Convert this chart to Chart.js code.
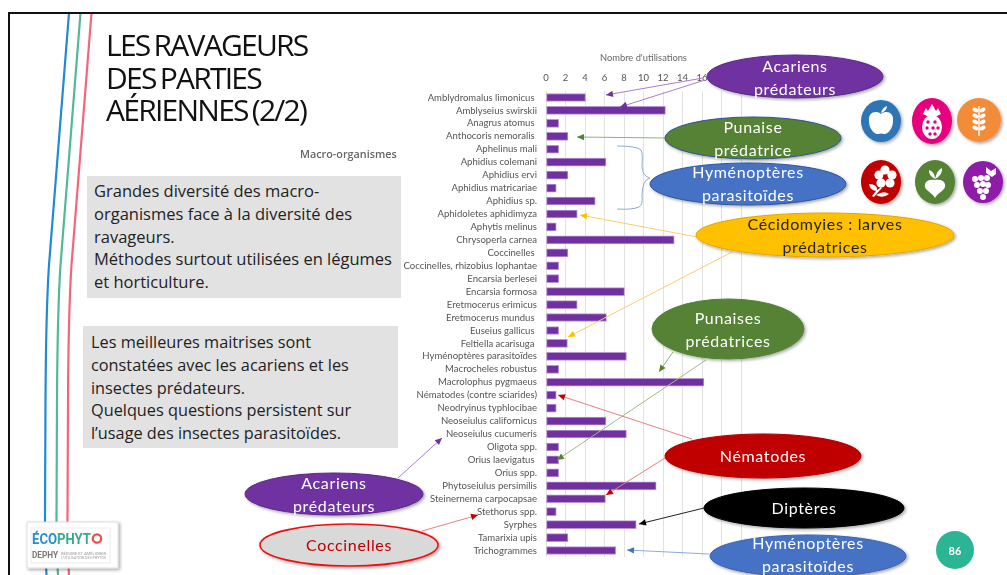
<!DOCTYPE html>
<html lang="fr">
<head>
<meta charset="utf-8">
<title>Les ravageurs des parties aériennes (2/2)</title>
<script src="https://cdn.jsdelivr.net/npm/chart.js@4"></script>
<style>
  html, body { margin: 0; padding: 0; background: #fff; }
  #slide { position: relative; width: 1007px; height: 575px; overflow: hidden; font-family: Lato, sans-serif; }
  #slide canvas, #slide svg { position: absolute; left: 0; top: 0; }
  #frame { position: absolute; left: 8px; top: 12px; width: 1010px; height: 580px; border: 2px solid #111; box-sizing: border-box; }
  h1 { position: absolute; left: 106px; top: 29px; margin: 0; font: 400 30px/32.6px "Open Sans", sans-serif; letter-spacing: -1.75px; word-spacing: -2px; color: #111; }
  .sub { position: absolute; left: 300px; top: 146px; font: 600 10.8px "Open Sans", sans-serif; color: #666; }
  .box { position: absolute; background: #e2e2e2; color: #222; font: 16.5px/22.8px "Open Sans", sans-serif; box-sizing: border-box; white-space: nowrap; }
</style>
</head>
<body>
<div id="slide">
  <canvas id="chart" width="1007" height="575"></canvas>
  <svg id="lines" width="1007" height="575" viewBox="0 0 1007 575"></svg>
  <div id="frame"></div>
  <h1>LES RAVAGEURS<br>DES PARTIES<br>AÉRIENNES (2/2)</h1>
  <div class="sub">Macro-organismes</div>
  <div class="box" style="left:87px;top:176px;width:314px;height:122px;padding:4px 0 0 7px">Grandes diversité des macro-<br>organismes face à la diversité des<br>ravageurs.<br>Méthodes surtout utilisées en légumes<br>et horticulture.</div>
  <div class="box" style="left:83px;top:326px;width:315px;height:122px;padding:5px 0 0 8px;font-size:16.3px">Les meilleures maitrises sont<br>constatées avec les acariens et les<br>insectes prédateurs.<br>Quelques questions persistent sur<br>l’usage des insectes parasitoïdes.</div>
</div>
<script>
const categories = [
  "Amblydromalus limonicus ", "Amblyseius swirskii", "Anagrus atomus ", "Anthocoris nemoralis ",
  "Aphelinus mali", "Aphidius colemani", "Aphidius ervi", "Aphidius matricariae", "Aphidius sp.",
  "Aphidoletes aphidimyza", "Aphytis melinus", "Chrysoperla carnea", "Coccinelles ",
  "Coccinelles, rhizobius lophantae", "Encarsia berlesei", "Encarsia formosa", "Eretmocerus erimicus",
  "Eretmocerus mundus ", "Euseius gallicus ", "Feltiella acarisuga ", "Hyménoptères parasitoïdes",
  "Macrocheles robustus", "Macrolophus pygmaeus", "Nématodes (contre sciarides)",
  "Neodryinus typhlocibae", "Neoseiulus californicus", "Neoseiulus cucumeris", "Oligota spp.",
  "Orius laevigatus ", "Orius spp.", "Phytoseiulus persimilis", "Steinernema carpocapsae",
  "Stethorus spp.", "Syrphes", "Tamarixia upis", "Trichogrammes"
];
const utilisations = [
  4.05, 12.25, 1.3, 2.25, 1.3, 6.15, 2.25, 1.05, 5.05, 3.2, 1.05, 13.15,
  2.25, 1.3, 1.3, 8.05, 3.2, 6.2, 1.3, 2.2, 8.25, 1.3, 16.2, 1.05,
  1.05, 6.15, 8.25, 1.3, 1.3, 1.3, 11.3, 6.1, 1.05, 9.25, 2.25, 7.15
];
const axisTitle = "Nombre d'utilisations";

new Chart(document.getElementById("chart"), {
  type: "bar",
  data: {
    labels: categories,
    datasets: [{
      data: utilisations,
      backgroundColor: "#7030a0",
      borderColor: "#b796d2",
      borderWidth: 1,
      borderSkipped: false,
      barThickness: 8
    }]
  },
  options: {
    indexAxis: "y",
    responsive: false,
    animation: false,
    layout: { padding: { right: 266, bottom: 18 } },
    plugins: { legend: { display: false }, tooltip: { enabled: false } },
    scales: {
      x: {
        position: "top",
        min: 0,
        max: 20,
        afterFit: (s) => { s.height = 91; },
        title: { display: true, text: axisTitle, color: "#666", font: { family: "Lato", size: 9.3 }, padding: { top: 52.5, bottom: 0 } },
        ticks: { stepSize: 2, color: "#555", font: { family: "Lato", size: 9.5 }, padding: 7.5, maxRotation: 0 },
        grid: { color: "#e2e2e2", drawTicks: false },
        border: { display: false }
      },
      y: {
        afterFit: (s) => { s.width = 546; },
        ticks: { autoSkip: false, color: "#555", font: { family: "Lato", size: 9.55 }, padding: 9 },
        grid: { display: false, drawTicks: false },
        border: { display: false }
      }
    }
  }
});

/* slide decoration, drawn above the chart */
const NS = "http://www.w3.org/2000/svg";
const svg = document.getElementById("lines");

function el(name, attrs, parent, text) {
  const n = document.createElementNS(NS, name);
  Object.keys(attrs).forEach((k) => n.setAttribute(k, attrs[k]));
  if (text) n.textContent = text;
  (parent || svg).appendChild(n);
  return n;
}

const defs = el("defs", {});
const shadow = el("filter", { id: "shadow", x: "-20%", y: "-30%", width: "140%", height: "170%" }, defs);
el("feDropShadow", { dx: 1.5, dy: 1.5, stdDeviation: 1.5, "flood-color": "#000", "flood-opacity": 0.35 }, shadow);

/* coloured stripes on the left */
[["#1f8bd0", 0], ["#4fb99a", 11.5], ["#f4647c", 22.5]].forEach(([c, dx]) => {
  el("path", { d: `M${69 + dx} 13 L${49 + dx} 265 Q${46 + dx} 310 ${45.5 + dx} 400 L${45 + dx} 520 Q${45 + dx} 550 ${46.5 + dx} 575`, stroke: c, "stroke-width": 2.2, fill: "none" });
});

/* arrows: colour, start x/y, tip x/y */
const arrows = [
  ["#a77fcb", "#7030a0", 703, 78, 606, 95],
  ["#a77fcb", "#7030a0", 705, 80, 620, 107],
  ["#8fb07a", "#548235", 665, 138, 577, 137],
  ["#f8cf6a", "#ffc000", 697, 237, 580, 215],
  ["#f8cf6a", "#ffc000", 732, 252, 568, 337],
  ["#8fb07a", "#548235", 673, 352, 659, 372],
  ["#9dbb8b", "#548235", 706, 360, 557, 460],
  ["#e87f7f", "#c00000", 692, 439, 558, 395],
  ["#e87f7f", "#c00000", 665, 458, 606, 495],
  ["#222", "#000", 704, 508, 639, 524],
  ["#8eaadb", "#4472c4", 709, 554, 627, 550],
  ["#a77fcb", "#7030a0", 398, 478, 442, 438],
  ["#e87f7f", "#c00000", 422, 531, 478, 515]
];
arrows.forEach(([line, head, x1, y1, x2, y2]) => {
  el("line", { x1, y1, x2, y2, stroke: line, "stroke-width": 1 });
  const a = Math.atan2(y2 - y1, x2 - x1), l = 7, w = 3.2;
  const bx = x2 - l * Math.cos(a), by = y2 - l * Math.sin(a);
  const px = w * Math.sin(a), py = w * Math.cos(a);
  el("polygon", { points: `${x2},${y2} ${bx + px},${by - py} ${bx - px},${by + py}`, fill: head });
});

/* brace for the Aphidius group */
el("path", { d: "M617 146 Q637 146 641 150 Q643 153 642 166 Q642 176 650 178 Q642 180 642 196 Q643 205 639 207 Q632 210 617 209", stroke: "#8eaadb", "stroke-width": 1, fill: "none" });

/* labelled ellipses: cx, cy, rx, ry, fill, stroke, text colour, lines */
const bubbles = [
  [795, 76.5, 88, 21.5, "#7030a0", "#5a2a86", "#fff", ["Acariens", "prédateurs"], 65],
  [753, 138, 88, 21, "#548235", "#2f5597", "#fff", ["Punaise", "prédatrice"], 126],
  [748, 184, 98, 21, "#4472c4", "#2f5597", "#fff", ["Hyménoptères", "parasitoïdes"], 171],
  [825, 235, 129, 22, "#ffc000", "#e0a800", "#222", ["Cécidomyies : larves", "prédatrices"], 223],
  [728, 329, 76, 30, "#548235", "#548235", "#fff", ["Punaises", "prédatrices"], 317],
  [763, 456, 98, 22, "#c00000", "#a80000", "#fff", ["Nématodes"], 455],
  [804, 508, 100, 20, "#000", "#000", "#fff", ["Diptères"], 507],
  [808, 556, 98, 21, "#4472c4", "#3a64ae", "#fff", ["Hyménoptères", "parasitoïdes"], 542],
  [334, 494, 89, 21, "#7030a0", "#5a2a86", "#fff", ["Acariens", "prédateurs"], 482],
  [349, 545, 89, 21, "#d9d9d9", "#f01010", "#c00000", ["Coccinelles"], 544]
];
bubbles.forEach(([cx, cy, rx, ry, fill, stroke, color, lines, y0]) => {
  el("ellipse", { cx, cy, rx, ry, fill, stroke, "stroke-width": fill === "#d9d9d9" ? 1.6 : 1, filter: "url(#shadow)" });
  lines.forEach((t, i) => {
    el("text", { x: cx, y: y0 + i * 23, fill: color, "font-family": "Lato", "font-size": 16, "letter-spacing": 0.65, "text-anchor": "middle", "dominant-baseline": "central" }, svg, t);
  });
});

/* crop icons: round badges with a small white glyph */
const W = "#fff";
function badge(cx, cy, rx, ry, fill, draw) {
  el("ellipse", { cx, cy, rx, ry, fill, filter: "url(#shadow)" });
  const g = el("g", { transform: `translate(${cx} ${cy})`, fill: W, stroke: "none" });
  draw(g);
}
badge(881, 121, 20, 21, "#2e75b6", (g) => {
  el("path", { d: "M0 -7 C-5 -11 -13 -9 -12 0 C-12 8 -6 14 -3 13 Q0 12 3 13 C6 14 12 8 12 0 C13 -9 5 -11 0 -7Z" }, g);
  el("path", { d: "M0 -8 Q1 -13 6 -15 Q6 -10 0 -8Z" }, g);
});
badge(932, 121, 20, 23, "#e6007e", (g) => {
  el("path", { d: "M-9 -7 L-6 -13 L-4 -10 L0 -17 L4 -10 L6 -13 L9 -7 L3 -4 L-3 -4Z" }, g);
  el("ellipse", { cx: 0, cy: 6, rx: 10, ry: 12 }, g);
  [[-4, 1], [3, 1], [-5, 7], [1, 7], [6, 7], [-2, 13], [3, 13]].forEach(([x, y]) => el("circle", { cx: x, cy: y, r: 1.7, fill: "#e6007e" }, g));
});
badge(979, 120, 22, 22, "#f28c38", (g) => {
  el("rect", { x: -0.7, y: -14, width: 1.4, height: 30 }, g);
  [-10, -4, 2, 8].forEach((y) => {
    el("ellipse", { cx: -3.5, cy: y, rx: 3.2, ry: 2, transform: `rotate(30 -3.5 ${y})` }, g);
    el("ellipse", { cx: 3.5, cy: y, rx: 3.2, ry: 2, transform: `rotate(-30 3.5 ${y})` }, g);
  });
});
badge(881, 182, 20, 22, "#c00000", (g) => {
  [[4, -12], [11, -7], [9, 1], [0, 1], [-2, -7]].forEach(([x, y]) => el("circle", { cx: x, cy: y, r: 4.6 }, g));
  el("circle", { cx: 4, cy: -5, r: 2.2, fill: "#c00000" }, g);
  el("path", { d: "M-9 14 Q-5 8 0 5 L1 6 Q-3 10 -7 15Z M-12 2 Q-3 2 -4 9 Q-11 9 -12 2Z M-5 13 Q3 8 8 12 Q2 17 -5 13Z" }, g);
});
badge(935, 182, 20, 22, "#548235", (g) => {
  el("path", { d: "M0 -2 C-11 -4 -12 5 -8 8 C-5 11 -2 12 0 16 C2 12 5 11 8 8 C12 5 11 -4 0 -2Z" }, g);
  el("path", { d: "M0 -3 Q-7 -7 -6 -12 Q0 -10 0 -3Z M0 -3 Q2 -12 7 -14 Q8 -7 0 -3Z" }, g);
});
badge(983, 182, 20, 21, "#8e1aa8", (g) => {
  [[-8, -3], [-2, -4], [4, -4], [-6, 3], [0, 2], [5, 3], [-3, 9], [3, 9], [0, 15]].forEach(([x, y]) => el("circle", { cx: x, cy: y, r: 3 }, g));
  el("path", { d: "M3 -15 L8 -11 L13 -14 L13 -8 L9 -5 L3 -9Z" }, g);
});

/* page number badge */
el("circle", { cx: 955, cy: 550, r: 19, fill: "#2bb594" });
el("text", { x: 955, y: 550, fill: "#fff", "font-family": "Lato", "font-size": 11, "font-weight": 700, "text-anchor": "middle", "dominant-baseline": "central" }, svg, "86");

/* logo */
el("rect", { x: 27, y: 522, width: 91, height: 46, fill: "#fff", stroke: "#ddd", "stroke-width": 1, filter: "url(#shadow)" });
el("rect", { x: 31, y: 528, width: 79, height: 35, fill: "none", stroke: "#e6e6e6", "stroke-width": 0.7 });
const logo = el("text", { x: 32, y: 544, "font-family": "Roboto", "font-size": 15, "font-weight": 700, textLength: 59, lengthAdjust: "spacingAndGlyphs" });
el("tspan", { fill: "#2a8fcf" }, logo, "ÉCO");
el("tspan", { fill: "#3aa98f" }, logo, "PHYT");
el("circle", { cx: 97, cy: 538.5, r: 4.2, fill: "none", stroke: "#ee4b4b", "stroke-width": 2.2 });
el("text", { x: 32, y: 558, fill: "#777", "font-family": "Roboto", "font-size": 9.5, "font-weight": 700, textLength: 26, lengthAdjust: "spacingAndGlyphs" }, svg, "DEPHY");
el("text", { x: 61, y: 555, fill: "#999", "font-family": "Roboto", "font-size": 3, textLength: 45, lengthAdjust: "spacingAndGlyphs" }, svg, "RÉDUIRE ET AMÉLIORER");
el("text", { x: 61, y: 559, fill: "#999", "font-family": "Roboto", "font-size": 3, textLength: 45, lengthAdjust: "spacingAndGlyphs" }, svg, "L'UTILISATION DES PHYTOS");
</script>
</body>
</html>
